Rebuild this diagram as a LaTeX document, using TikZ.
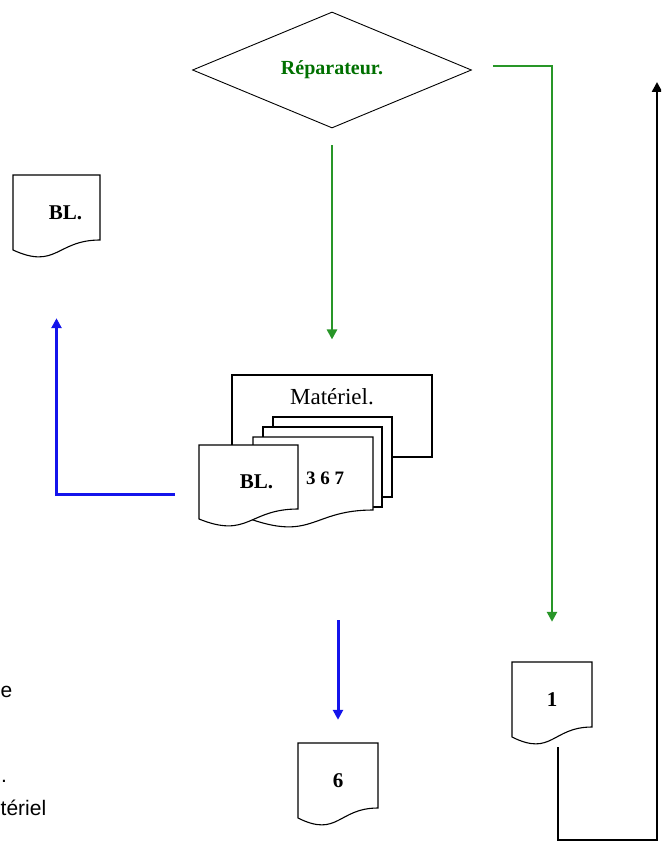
\documentclass[tikz,border=0pt]{standalone}
\usepackage{fontspec}
\setmainfont{Liberation Serif}
\newfontfamily\arial{Liberation Sans}
\usetikzlibrary{shapes.geometric, arrows.meta, calc}
\definecolor{vertfonce}{RGB}{0,112,0}
\definecolor{vertligne}{RGB}{40,150,40}
\definecolor{bleuligne}{RGB}{20,20,235}
\tikzstyle{page}=[draw, fill=white, line width=1.1pt, inner sep=0pt]
\tikzstyle{gras}=[inner sep=0pt, font=\bfseries\fontsize{21}{25}\selectfont]
\tikzstyle{fleche}=[-{Triangle[length=10pt,width=10pt]}]
\tikzstyle{vert}=[fleche, line width=2.8pt, draw=vertligne]
\tikzstyle{bleu}=[fleche, line width=3pt, draw=bleuligne]
\tikzstyle{noir}=[fleche, line width=2.7pt, draw=black]
\tikzstyle{legende}=[inner sep=0pt, anchor=west, font=\arial\fontsize{21}{25}\selectfont]

% feuille a bord ondule : nom, centre, largeur, hauteur, texte
\newcommand{\feuille}[5]{%
  \begin{scope}[shift={(#2)}]
    \draw[page] ({-#3/2},{-#4/2}) -- ({#3/2},{-#4/2}) -- ({#3/2},{#4/2-10})
      .. controls (0,{#4/2-10}) and (0,{#4/2+20}) .. ({-#3/2},{#4/2}) -- cycle;
    \node[gras, minimum width=#3pt, minimum height=#4pt] (#1) at (0,0) {#5};
  \end{scope}}

\begin{document}
\begin{tikzpicture}[x=1pt, y=-1pt, line join=miter]
  \clip (0,0) rectangle (661,842);
  \fill[white] (0,0) rectangle (661,842);

  \node[diamond, draw, line width=0.9pt, aspect=2.4, inner sep=0pt,
        minimum width=279pt, minimum height=116pt, text=vertfonce,
        font=\bfseries\fontsize{20}{24}\selectfont] (rep) at (332,70) {Réparateur.};

  \feuille{bl1}{56.5,212.5}{87}{75}{\hspace*{18pt}BL.}

  % pile du materiel
  \node[page, minimum width=200pt, minimum height=82pt,
        label={[name=matlib, anchor=north, inner sep=0pt, yshift=-14pt,
                font=\fontsize{23}{27}\selectfont]north:Matériel.}] (mat) at (332,416) {};
  \node[page, minimum width=119pt, minimum height=80pt] (p3) at (332.5,457) {};
  \node[page, minimum width=119pt, minimum height=80pt] (p2) at (322.5,467) {};
  \feuille{p1}{313,478.5}{120}{83}{\hspace*{24pt}\fontsize{19}{22}\selectfont 3 6 7}
  \feuille{bl2}{248.5,482}{99}{74}{\hspace*{16pt}BL.}

  \feuille{un}{552,699.5}{80}{75}{1}
  \feuille{six}{338,780.5}{80}{75}{6}

  \node[legende] (leg1) at (0.5,692) {e};
  \node[legende] (leg2) at (1,781) {.};
  \node[legende] (leg3) at (0.5,808) {tériel};

  \coordinate (coin) at (657,840);
  \coordinate (haut) at (657,82);

  \draw[vert] ([xshift=21pt,yshift=4pt]rep.east) -| ([yshift=40pt]un.north);
  \draw[vert] ([yshift=-17pt]rep.south) -- ([yshift=35pt]mat.north);
  \draw[bleu] ([xshift=-24pt,yshift=-12pt]bl2.west) -| ([yshift=-68pt]bl1.south);
  \draw[bleu] ($(six.north |- p1.south)+(0,-100pt)$) -- ([yshift=23pt]six.north);
  \draw[noir] ([xshift=6pt,yshift=-10pt]un.south) |- (coin) -- (haut);
\end{tikzpicture}
\end{document}
